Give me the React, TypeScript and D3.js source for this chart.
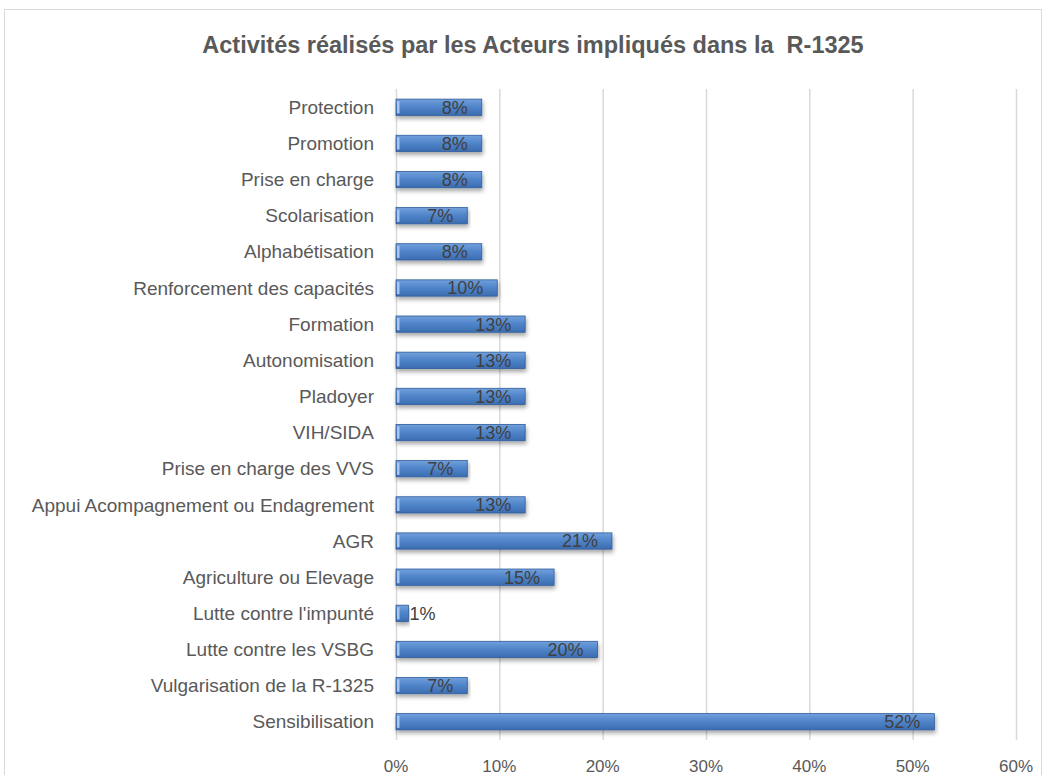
import { useRef, useEffect } from "react";
import * as d3 from "d3";

const width = 1046;
const height = 775;

const categories = [
  "Protection",
  "Promotion",
  "Prise en charge",
  "Scolarisation",
  "Alphabétisation",
  "Renforcement des capacités",
  "Formation",
  "Autonomisation",
  "Pladoyer",
  "VIH/SIDA",
  "Prise en charge des VVS",
  "Appui Acompagnement ou Endagrement ",
  "AGR",
  "Agriculture ou Elevage",
  "Lutte contre l'impunté",
  "Lutte contre les VSBG",
  "Vulgarisation de la R-1325",
  "Sensibilisation",
];

const values = [
  0.083, 0.083, 0.083, 0.069, 0.083, 0.098, 0.125, 0.125, 0.125, 0.125,
  0.069, 0.125, 0.209, 0.153, 0.012, 0.195, 0.069, 0.521,
];

const ticks = [0, 0.1, 0.2, 0.3, 0.4, 0.5, 0.6];

const margin = { left: 396, right: 30, top: 89, bottom: 35 };
const font = "Liberation Sans, Arial, sans-serif";

const App = () => {
  const ref = useRef<SVGSVGElement>(null);

  useEffect(() => {
    const svg = d3.select(ref.current);
    svg.selectAll("*").remove();

    const x = d3
      .scaleLinear()
      .domain([0, 0.6])
      .range([margin.left, width - margin.right]);
    const y = d3
      .scaleBand()
      .domain(categories)
      .range([margin.top, height - margin.bottom])
      .paddingInner(0.55)
      .paddingOuter(0.28);

    const defs = svg.append("defs");
    const grad = defs
      .append("linearGradient")
      .attr("id", "barGrad")
      .attr("x1", 0)
      .attr("y1", 0)
      .attr("x2", 0)
      .attr("y2", 1);
    grad.append("stop").attr("offset", "0%").attr("stop-color", "#72a0dc");
    grad.append("stop").attr("offset", "45%").attr("stop-color", "#5186ca");
    grad.append("stop").attr("offset", "100%").attr("stop-color", "#3b6cb0");

    const shadow = defs
      .append("filter")
      .attr("id", "shadow")
      .attr("x", "-5%")
      .attr("y", "-40%")
      .attr("width", "110%")
      .attr("height", "200%");
    shadow
      .append("feDropShadow")
      .attr("dx", 1)
      .attr("dy", 3)
      .attr("stdDeviation", 2)
      .attr("flood-color", "#000")
      .attr("flood-opacity", 0.35);

    // chart border
    svg
      .append("rect")
      .attr("x", 4.5)
      .attr("y", 9.5)
      .attr("width", width - 9)
      .attr("height", height)
      .attr("fill", "#fff")
      .attr("stroke", "#d9d9d9");

    svg
      .append("text")
      .attr("x", 533)
      .attr("y", 53)
      .attr("text-anchor", "middle")
      .attr("font-family", font)
      .attr("font-weight", "bold")
      .attr("font-size", 23.5)
      .attr("fill", "#595959")
      .style("white-space", "pre")
      .text("Activités réalisés par les Acteurs impliqués dans la  R-1325");

    const gridTop = margin.top;
    const gridBottom = height - margin.bottom;

    svg
      .append("g")
      .selectAll("line")
      .data(ticks)
      .join("line")
      .attr("x1", (d) => x(d) + 0.5)
      .attr("x2", (d) => x(d) + 0.5)
      .attr("y1", gridTop)
      .attr("y2", gridBottom)
      .attr("stroke", "#d9d9d9")
      .attr("stroke-width", 1.5);

    svg
      .append("g")
      .selectAll("text")
      .data(ticks)
      .join("text")
      .attr("x", (d) => x(d))
      .attr("y", 772)
      .attr("text-anchor", "middle")
      .attr("font-family", font)
      .attr("font-size", 17)
      .attr("fill", "#595959")
      .text((d) => d3.format(".0%")(d));

    svg
      .append("g")
      .selectAll("text")
      .data(categories)
      .join("text")
      .attr("x", 374)
      .attr("y", (d) => y(d)! + y.bandwidth() / 2)
      .attr("dy", "0.35em")
      .attr("text-anchor", "end")
      .attr("font-family", font)
      .attr("font-size", 19)
      .attr("fill", "#595959")
      .text((d) => d.trimEnd());

    const bars = svg
      .append("g")
      .selectAll("g")
      .data(categories.map((c, i) => ({ c, v: values[i] })))
      .join("g");

    bars
      .append("rect")
      .attr("x", x(0))
      .attr("y", (d) => y(d.c)!)
      .attr("width", (d) => x(d.v) - x(0))
      .attr("height", y.bandwidth())
      .attr("fill", "url(#barGrad)")
      .attr("stroke", "#2f5d9c")
      .attr("stroke-width", 0.8)
      .attr("filter", "url(#shadow)");

    bars
      .append("rect")
      .attr("x", x(0) + 1)
      .attr("y", (d) => y(d.c)! + 2)
      .attr("width", 2.5)
      .attr("height", y.bandwidth() - 4)
      .attr("fill", "#a9c6ee");

    bars
      .append("text")
      .attr("x", (d) => (d.v < 0.03 ? x(d.v) + 1 : x(d.v) - 14))
      .attr("y", (d) => y(d.c)! + y.bandwidth() / 2)
      .attr("dy", "0.36em")
      .attr("text-anchor", (d) => (d.v < 0.03 ? "start" : "end"))
      .attr("font-family", font)
      .attr("font-size", 18)
      .attr("fill", "#404040")
      .text((d) => d3.format(".0%")(d.v));
  }, []);

  return (
    <svg
      ref={ref}
      width={width}
      height={height}
      style={{ position: "absolute", left: 0, top: 0 }}
    />
  );
};

export default App;
